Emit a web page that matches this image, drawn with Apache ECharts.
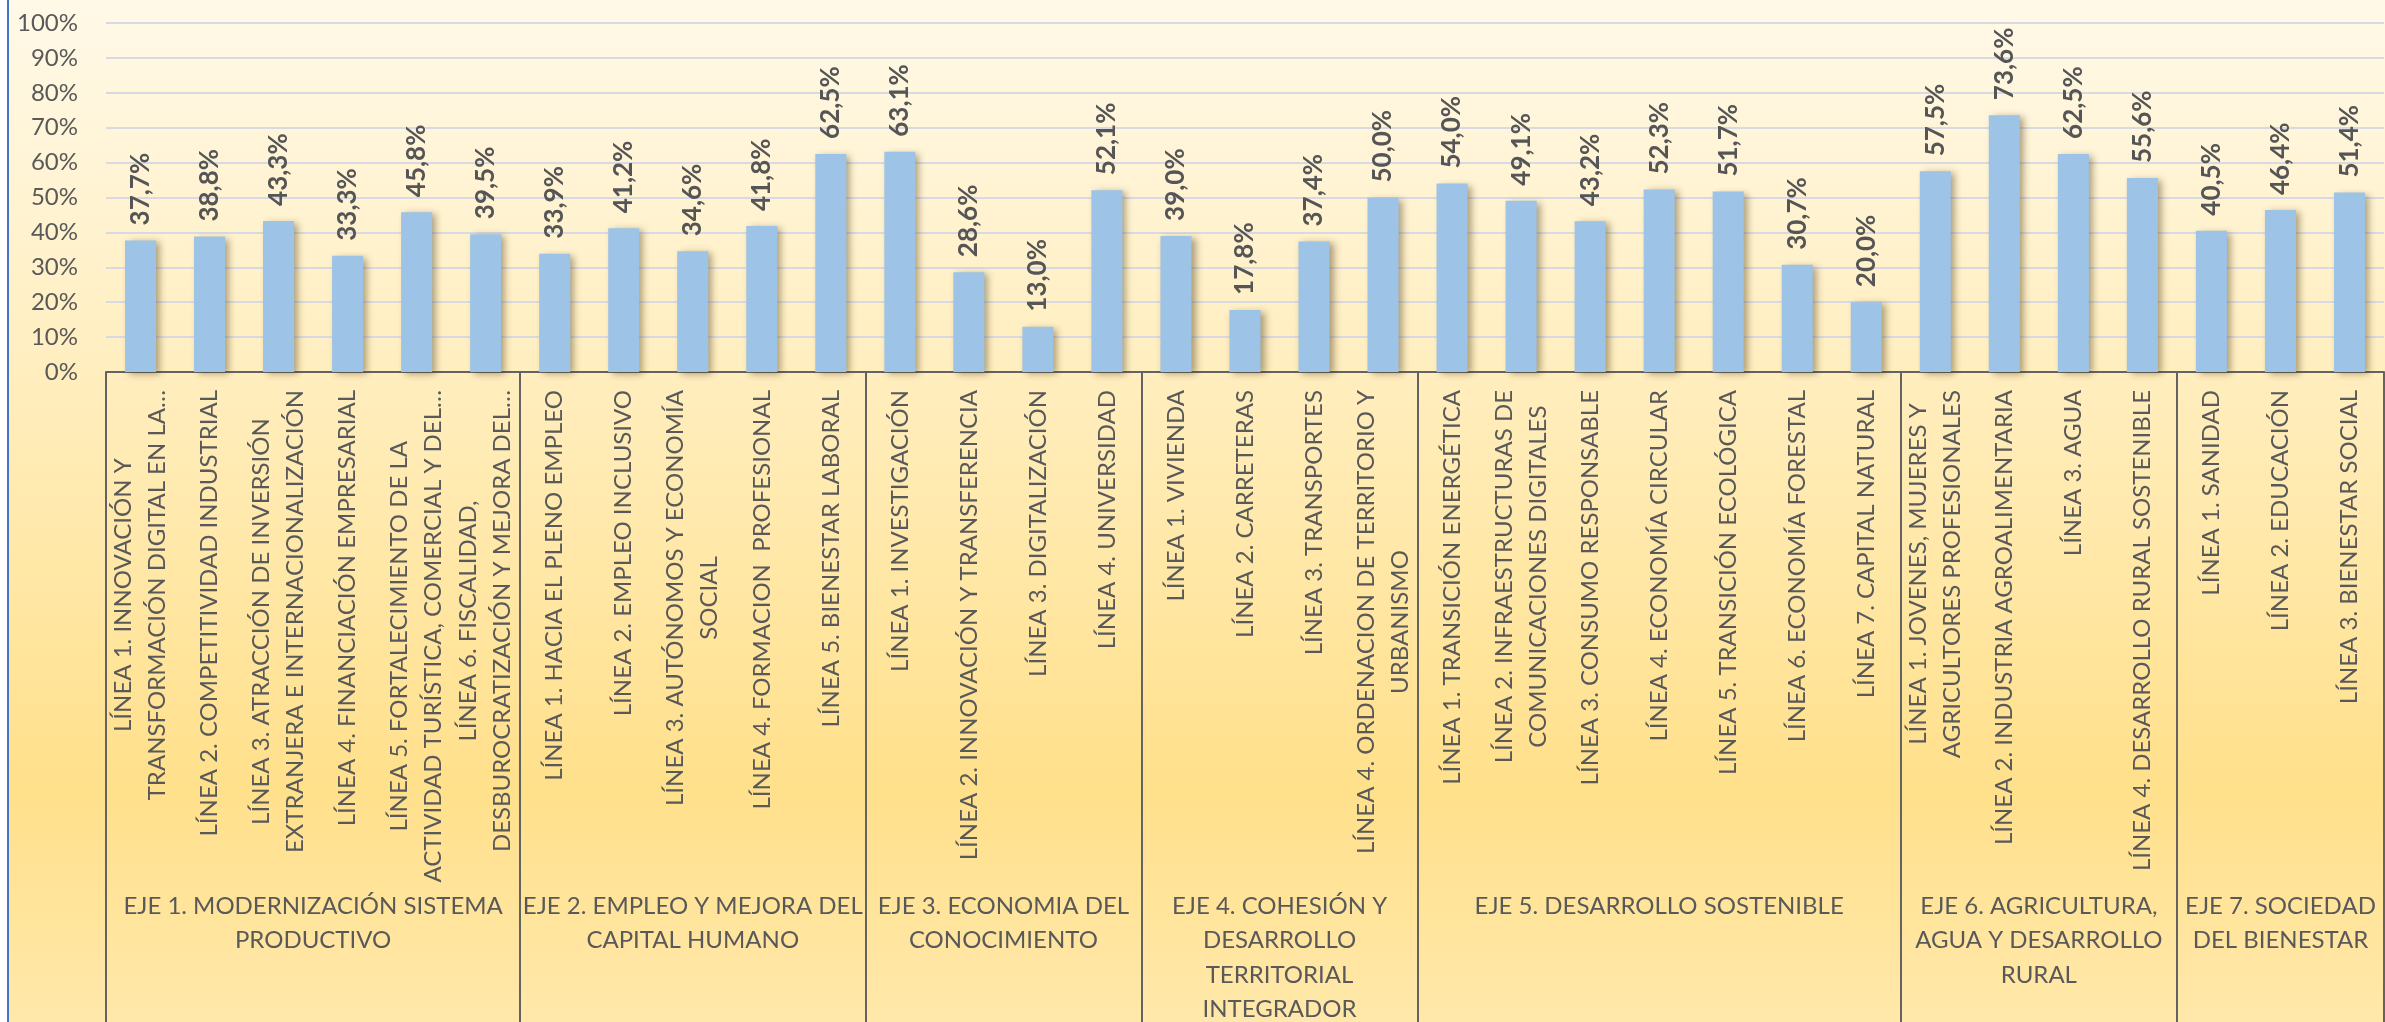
<!DOCTYPE html>
<html>
<head>
<meta charset="utf-8">
<script src="https://cdn.jsdelivr.net/npm/echarts@6/dist/echarts.min.js"></script>
<style>
  html, body { margin: 0; padding: 0; background: #ffffff; }
  #chart { width: 2385px; height: 1022px; }
</style>
</head>
<body>
<div id="chart"></div>
<script>
const categories = [
  "LÍNEA 1. INNOVACIÓN Y\nTRANSFORMACIÓN DIGITAL EN LA…",
  "LÍNEA 2. COMPETITIVIDAD INDUSTRIAL",
  "LÍNEA 3. ATRACCIÓN DE INVERSIÓN\nEXTRANJERA E INTERNACIONALIZACIÓN",
  "LÍNEA 4. FINANCIACIÓN EMPRESARIAL",
  "LÍNEA 5. FORTALECIMIENTO DE LA\nACTIVIDAD TURÍSTICA, COMERCIAL Y DEL…",
  "LÍNEA 6. FISCALIDAD,\nDESBUROCRATIZACIÓN Y MEJORA DEL…",
  "LÍNEA 1. HACIA EL PLENO EMPLEO",
  "LÍNEA 2. EMPLEO INCLUSIVO",
  "LÍNEA 3. AUTÓNOMOS Y ECONOMÍA\nSOCIAL",
  "LÍNEA 4. FORMACION  PROFESIONAL",
  "LÍNEA 5. BIENESTAR LABORAL",
  "LÍNEA 1. INVESTIGACIÓN",
  "LÍNEA 2. INNOVACIÓN Y TRANSFERENCIA",
  "LÍNEA 3. DIGITALIZACIÓN",
  "LÍNEA 4. UNIVERSIDAD",
  "LÍNEA 1. VIVIENDA",
  "LÍNEA 2. CARRETERAS",
  "LÍNEA 3. TRANSPORTES",
  "LÍNEA 4. ORDENACION DE TERRITORIO Y\nURBANISMO",
  "LÍNEA 1. TRANSICIÓN ENERGÉTICA",
  "LÍNEA 2. INFRAESTRUCTURAS DE\nCOMUNICACIONES DIGITALES",
  "LÍNEA 3. CONSUMO RESPONSABLE",
  "LÍNEA 4. ECONOMÍA CIRCULAR",
  "LÍNEA 5. TRANSICIÓN ECOLÓGICA",
  "LÍNEA 6. ECONOMÍA FORESTAL",
  "LÍNEA 7. CAPITAL NATURAL",
  "LÍNEA 1. JOVENES, MUJERES Y\nAGRICULTORES PROFESIONALES",
  "LÍNEA 2. INDUSTRIA AGROALIMENTARIA",
  "LÍNEA 3. AGUA",
  "LÍNEA 4. DESARROLLO RURAL SOSTENIBLE",
  "LÍNEA 1. SANIDAD",
  "LÍNEA 2. EDUCACIÓN",
  "LÍNEA 3. BIENESTAR SOCIAL"
];

const values = [
  37.7, 38.8, 43.3, 33.3, 45.8, 39.5,
  33.9, 41.2, 34.6, 41.8, 62.5,
  63.1, 28.6, 13.0, 52.1,
  39.0, 17.8, 37.4, 50.0,
  54.0, 49.1, 43.2, 52.3, 51.7, 30.7, 20.0,
  57.5, 73.6, 62.5, 55.6,
  40.5, 46.4, 51.4
];

const groupNames = [
  "EJE 1. MODERNIZACIÓN SISTEMA\nPRODUCTIVO",
  "EJE 2. EMPLEO Y MEJORA DEL\nCAPITAL HUMANO",
  "EJE 3. ECONOMIA DEL\nCONOCIMIENTO",
  "EJE 4. COHESIÓN Y\nDESARROLLO\nTERRITORIAL\nINTEGRADOR",
  "EJE 5. DESARROLLO SOSTENIBLE",
  "EJE 6. AGRICULTURA,\nAGUA Y DESARROLLO\nRURAL",
  "EJE 7. SOCIEDAD\nDEL BIENESTAR"
];

const groupSizes = [6, 5, 4, 4, 7, 4, 3];

const yTicks = [0, 10, 20, 30, 40, 50, 60, 70, 80, 90, 100];

// derived group spans
const groupSpans = [];
const boundaryStarts = new Set();
let acc = 0;
groupSizes.forEach(function (n) {
  groupSpans.push([acc, acc + n - 1, 0]);
  boundaryStarts.add(acc);
  acc += n;
});

const FONT = "Lato, 'Open Sans', sans-serif";
const TXT = '#595959';
const LINE = '#636363';

const chart = echarts.init(document.getElementById('chart'), null, { renderer: 'canvas' });

const option = {
  animation: false,
  backgroundColor: {
    type: 'linear', x: 0, y: 0, x2: 0, y2: 1,
    colorStops: [
      { offset: 0, color: '#FFF9E8' },
      { offset: 0.36, color: '#FFEEBF' },
      { offset: 0.77, color: '#FFE08B' },
      { offset: 1, color: '#FFE8AA' }
    ]
  },
  graphic: [
    { type: 'rect', left: 0, top: 0, shape: { width: 7, height: 1022 }, style: { fill: '#ffffff' }, z: 100 },
    { type: 'rect', left: 7, top: 0, shape: { width: 2, height: 1022 }, style: { fill: '#4472C4' }, z: 100 }
  ],
  grid: { left: 106, right: 1, top: 23, bottom: 650, containLabel: false },
  xAxis: {
    type: 'category',
    data: categories,
    boundaryGap: true,
    axisLine: { show: true, lineStyle: { color: LINE, width: 2 } },
    axisTick: {
      show: true,
      length: 680,
      interval: function (idx) { return boundaryStarts.has(idx); },
      lineStyle: { color: LINE, width: 2 }
    },
    axisLabel: {
      interval: 0,
      rotate: 90,
      margin: 18,
      color: TXT,
      fontFamily: FONT,
      fontSize: 24,
      lineHeight: 34,
      formatter: function (v) {
        return v.split('\n').map(function (l) { return '{c|' + l + '}'; }).join('\n');
      },
      rich: {
        c: { align: 'center', color: TXT, fontFamily: FONT, fontSize: 24, lineHeight: 34 }
      }
    }
  },
  yAxis: {
    type: 'value',
    min: yTicks[0],
    max: yTicks[yTicks.length - 1],
    interval: yTicks[1] - yTicks[0],
    axisLine: { show: false },
    axisTick: { show: false },
    axisLabel: {
      formatter: '{value}%',
      color: TXT,
      fontFamily: FONT,
      fontSize: 24,
      margin: 28
    },
    splitLine: { show: true, lineStyle: { color: '#D8D9E3', width: 2 } }
  },
  series: [
    {
      type: 'bar',
      data: values,
      barWidth: '45%',
      itemStyle: {
        color: '#9DC3E6',
        shadowColor: 'rgba(70, 55, 20, 0.45)',
        shadowBlur: 7,
        shadowOffsetX: 4,
        shadowOffsetY: 2
      },
      label: {
        show: true,
        position: 'top',
        rotate: 90,
        align: 'left',
        verticalAlign: 'middle',
        distance: 15,
        color: '#555555',
        fontFamily: FONT,
        fontWeight: 'bold',
        fontSize: 26,
        formatter: function (p) { return p.value.toFixed(1).replace('.', ',') + '%'; }
      }
    },
    {
      type: 'custom',
      silent: true,
      clip: false,
      data: groupSpans,
      encode: { x: [0, 1], y: 2 },
      renderItem: function (params, api) {
        const a = api.coord([api.value(0), 0]);
        const b = api.coord([api.value(1), 0]);
        return {
          type: 'text',
          x: (a[0] + b[0]) / 2,
          y: a[1] + 517,
          style: {
            text: groupNames[params.dataIndex],
            align: 'center',
            verticalAlign: 'top',
            fill: TXT,
            fontFamily: FONT,
            fontSize: 24,
            lineHeight: 34.5
          }
        };
      }
    }
  ]
};

chart.setOption(option);
</script>
</body>
</html>
